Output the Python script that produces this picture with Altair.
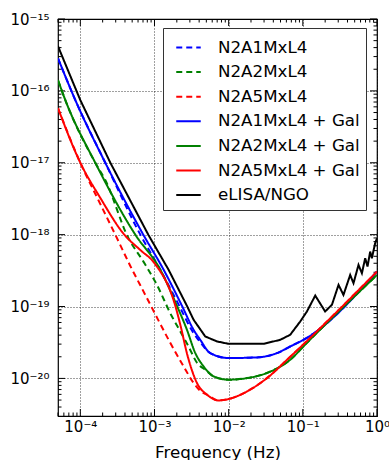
import altair as alt
import pandas as pd

# ---------------- data ----------------
SERIES = ["N2A1MxL4", "N2A2MxL4", "N2A5MxL4",
          "N2A1MxL4 + Gal", "N2A2MxL4 + Gal", "N2A5MxL4 + Gal", "eLISA/NGO"]

F_ELISA = [5e-5, 1e-4, 2.54e-4, 8.24e-4, 1.55e-3, 2.74e-3, 3.37e-3, 4.84e-3, 6.96e-3,
           9.97e-3, 2.95e-2, 4.95e-2, 6.76e-2, 9.22e-2, 0.1135, 0.147, 0.200, 0.247,
           0.303, 0.353, 0.435, 0.482, 0.563, 0.626, 0.693, 0.745, 0.809, 0.853, 0.944, 1.0]
H_ELISA = [4.18e-16, 7.43e-17, 1e-17, 1e-18, 3.24e-19, 1.02e-19, 6.53e-20, 3.83e-20, 3.27e-20,
           3.03e-20, 3.03e-20, 3.44e-20, 4.05e-20, 6.19e-20, 8.53e-20, 1.42e-19, 8.53e-20, 1.06e-19,
           2.0e-19, 1.45e-19, 2.75e-19, 2.11e-19, 3.79e-19, 2.91e-19, 4.70e-19, 3.60e-19, 5.81e-19,
           4.70e-19, 7.60e-19, 8.9e-19]

F_A1_GAL = [5e-5, 8.57e-5, 2.17e-4, 7.06e-4, 1.33e-3, 2.35e-3, 3.37e-3, 4.14e-3, 5.65e-3,
            9.97e-3, 2.41e-2, 4.48e-2, 6.76e-2, 0.1135, 1.0]
H_A1_GAL = [2.84e-16, 7.43e-17, 1e-17, 1e-18, 3.24e-19, 1.02e-19, 4.74e-20, 3.44e-20, 2.25e-20,
            1.92e-20, 1.96e-20, 2.25e-20, 2.78e-20, 3.67e-20, 3.06e-19]

F_A2_GAL = [5e-5, 6.28e-5, 1.59e-4, 5.51e-4, 1.20e-3, 2.01e-3, 2.74e-3, 3.55e-3, 4.59e-3,
            6.26e-3, 9.97e-3, 1.77e-2, 3.28e-2, 6.76e-2, 0.1135, 1.0]
H_A2_GAL = [1.41e-16, 7.43e-17, 1e-17, 1e-18, 3.24e-19, 1.02e-19, 4.74e-20, 2.25e-20, 1.47e-20,
            1.07e-20, 9.6e-21, 1.01e-20, 1.19e-20, 1.82e-20, 3.13e-20, 2.75e-19]

F_A5_GAL = [5e-5, 1e-4, 1.86e-4, 3.92e-4, 6.44e-4, 1e-3, 1.91e-3, 2.23e-3, 2.77e-3, 3.74e-3,
            5.10e-3, 7.31e-3, 9.97e-3, 1.77e-2, 3.28e-2, 6.76e-2, 1.0]
H_A5_GAL = [5.75e-17, 1e-17, 3.24e-18, 1e-18, 6.11e-19, 4.01e-19, 1.02e-19, 5.57e-20, 2.13e-20,
            8.63e-21, 5.94e-21, 4.94e-21, 5.17e-21, 6.59e-21, 1.01e-20, 2.0e-20, 3.06e-19]

F_A1 = [5e-5, 8.57e-5, 2.17e-4, 6.44e-4, 1.20e-3, 2.16e-3, 3.16e-3, 4.14e-3, 5.65e-3,
        9.97e-3, 2.41e-2, 4.48e-2, 6.76e-2, 0.1135, 1.0]
H_A1 = [2.84e-16, 7.43e-17, 1e-17, 1e-18, 3.24e-19, 1.02e-19, 4.74e-20, 3.18e-20, 2.25e-20,
        1.92e-20, 1.96e-20, 2.25e-20, 2.78e-20, 3.67e-20, 3.06e-19]

F_A2 = [5e-5, 6.28e-5, 1.59e-4, 2.17e-4, 4.44e-4, 7.13e-4, 1.06e-3, 1.72e-3, 2.23e-3, 2.88e-3,
        3.74e-3, 4.84e-3, 6.26e-3, 9.97e-3, 1.77e-2, 3.28e-2, 6.76e-2, 0.1135, 1.0]
H_A2 = [1.41e-16, 7.43e-17, 1e-17, 5.75e-18, 9.0e-19, 4.18e-19, 2.07e-19, 7.26e-20, 4.50e-20,
        2.78e-20, 1.65e-20, 1.32e-20, 1.07e-20, 9.6e-21, 1.01e-20, 1.19e-20, 1.82e-20, 3.13e-20,
        2.75e-19]

F_A5 = [5e-5, 1e-4, 1.75e-4, 2.96e-4, 4.72e-4, 7.52e-4, 1.12e-3, 1.63e-3, 2.47e-3, 3.37e-3,
        4.28e-3, 5.10e-3, 7.31e-3, 9.97e-3, 1.77e-2, 3.28e-2, 6.76e-2, 1.0]
H_A5 = [5.75e-17, 1e-17, 3.03e-18, 1e-18, 3.67e-19, 1.45e-19, 6.53e-20, 3.13e-20, 1.47e-20,
        8.63e-21, 6.53e-21, 5.94e-21, 4.94e-21, 5.17e-21, 6.59e-21, 1.01e-20, 2.0e-20, 3.06e-19]

X_TICK_EXP = [-4, -3, -2, -1, 0]
X_TICK_LABELS = ["10⁻⁴", "10⁻³", "10⁻²", "10⁻¹", "10⁰"]
Y_TICK_EXP = [-20, -19, -18, -17, -16, -15]
Y_TICK_LABELS = ["10⁻²⁰", "10⁻¹⁹", "10⁻¹⁸", "10⁻¹⁷", "10⁻¹⁶", "10⁻¹⁵"]
X_TITLE = "Frequency (Hz)"

# ---------------- styles ----------------
COLORS = ["#0000ff", "#008000", "#ff0000", "#0000ff", "#008000", "#ff0000", "#000000"]
DASHES = [[6, 4], [6, 4], [6, 4], [1, 0], [1, 0], [1, 0], [1, 0]]
WIDTHS = [2, 2, 2, 3, 3, 3, 2]
FONT = "DejaVu Sans"
W, H = 319, 397
X_DOMAIN = [5e-5, 1.0]
Y_DOMAIN = [3e-21, 1e-15]

curves = {
    "N2A1MxL4": (F_A1, H_A1),
    "N2A2MxL4": (F_A2, H_A2),
    "N2A5MxL4": (F_A5, H_A5),
    "N2A1MxL4 + Gal": (F_A1_GAL, H_A1_GAL),
    "N2A2MxL4 + Gal": (F_A2_GAL, H_A2_GAL),
    "N2A5MxL4 + Gal": (F_A5_GAL, H_A5_GAL),
    "eLISA/NGO": (F_ELISA, H_ELISA),
}
rows = []
for name in SERIES:
    fs, hs = curves[name]
    for i, (f, h) in enumerate(zip(fs, hs)):
        rows.append({"series": name, "f": f, "h": h, "i": i})
df = pd.DataFrame(rows)


def label_expr(exps, labels):
    parts = [f"abs(log(datum.value)/LN10 - ({e})) < 0.01 ? '{lab}'" for e, lab in zip(exps, labels)]
    return " : ".join(parts) + " : ''"


x_values = [10.0 ** e for e in X_TICK_EXP]
y_values = [10.0 ** e for e in Y_TICK_EXP]

xscale = alt.Scale(type="log", domain=X_DOMAIN, nice=False)
yscale = alt.Scale(type="log", domain=Y_DOMAIN, nice=False)

xaxis = alt.Axis(values=x_values, labelExpr=label_expr(X_TICK_EXP, X_TICK_LABELS),
                 title=X_TITLE, ticks=False, domain=False, grid=True,
                 gridDash=[1, 2], gridColor="#000000", gridOpacity=0.75, gridWidth=1,
                 labelFont=FONT, labelFontSize=15, labelColor="black", labelPadding=3,
                 labelOverlap=False, labelFlush=False,
                 titleFont=FONT, titleFontSize=16.7, titleFontWeight="normal",
                 titleColor="black", titleY=41, titleBaseline="alphabetic")
yaxis = alt.Axis(values=y_values, labelExpr=label_expr(Y_TICK_EXP, Y_TICK_LABELS),
                 title=None, ticks=False, domain=False, grid=True,
                 gridDash=[1, 2], gridColor="#000000", gridOpacity=0.75, gridWidth=1,
                 labelFont=FONT, labelFontSize=15, labelColor="black", labelPadding=9,
                 labelOverlap=False, labelFlush=False)

legend = alt.Legend(title=None, orient="none", legendX=105, legendY=9,
                    symbolType="stroke", symbolSize=600, labelFont=FONT,
                    labelFontSize=16.7, labelColor="black", padding=6,
                    rowPadding=1.6, labelOffset=16, symbolOffset=6,
                    strokeColor="#333333", fillColor="white")

enc = dict(
    x=alt.X("f:Q", scale=xscale, axis=xaxis),
    y=alt.Y("h:Q", scale=yscale, axis=yaxis),
    color=alt.Color("series:N", scale=alt.Scale(domain=SERIES, range=COLORS), legend=legend),
    strokeDash=alt.StrokeDash("series:N", scale=alt.Scale(domain=SERIES, range=DASHES), legend=legend),
    strokeWidth=alt.StrokeWidth("series:N", scale=alt.Scale(domain=SERIES, range=WIDTHS), legend=legend),
    order=alt.Order("i:Q"),
)

layers = []
for name in SERIES:
    interp = "linear" if name == "eLISA/NGO" else "monotone"
    layers.append(
        alt.Chart(df).transform_filter(alt.datum.series == name)
        .mark_line(interpolate=interp, clip=True)
        .encode(**enc)
    )

# tick marks (inside, all four sides) from tick values
X_MINOR = [k * 10.0 ** e for e in range(-5, 0) for k in range(2, 10) if X_DOMAIN[0] <= k * 10.0 ** e < X_DOMAIN[1]]
Y_MINOR = [k * 10.0 ** e for e in range(-21, -15) for k in range(2, 10) if Y_DOMAIN[0] <= k * 10.0 ** e < Y_DOMAIN[1]]
xt_major = pd.DataFrame({"f": x_values})
xt_minor = pd.DataFrame({"f": X_MINOR})
yt_major = pd.DataFrame({"h": y_values})
yt_minor = pd.DataFrame({"h": Y_MINOR})


def xticks(d, y0, y1):
    return alt.Chart(d).mark_rule(color="black", strokeWidth=1).encode(
        x=alt.X("f:Q", scale=xscale, axis=xaxis), y=alt.value(y0), y2=alt.value(y1))


def yticks(d, x0, x1):
    return alt.Chart(d).mark_rule(color="black", strokeWidth=1).encode(
        y=alt.Y("h:Q", scale=yscale, axis=yaxis), x=alt.value(x0), x2=alt.value(x1))


MAJ, MIN = 7, 3.5
tick_layers = [
    xticks(xt_major, 0, MAJ), xticks(xt_minor, 0, MIN),
    xticks(xt_major, H, H - MAJ), xticks(xt_minor, H, H - MIN),
    yticks(yt_major, 0, MAJ), yticks(yt_minor, 0, MIN),
    yticks(yt_major, W, W - MAJ), yticks(yt_minor, W, W - MIN),
]

chart = alt.layer(*tick_layers, *layers).properties(
    width=W, height=H,
    padding={"left": 58, "top": 19, "right": 12, "bottom": 44},
    autosize=alt.AutoSizeParams(type="none"),
    background="white",
).configure_view(stroke="black", strokeWidth=1.2)

chart.save("out.html", embed_options={"renderer": "svg", "actions": False})
